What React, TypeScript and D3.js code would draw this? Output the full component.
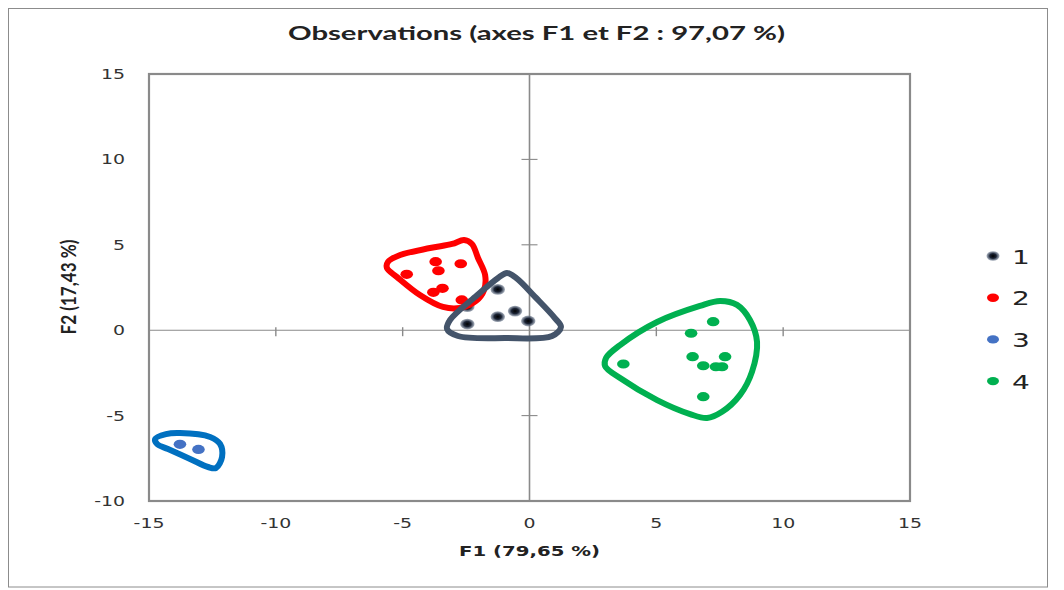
import React from "react";
import * as d3 from "d3";

// --- data ---
const categories = ["1", "2", "3", "4"];
const colors = ["#1b2436", "#ff0000", "#4472c4", "#00b050"];
const outlineColors = ["#44546a", "#ff0000", "#0070c0", "#00b050"];

const group1 = [
  [-1.25, 2.39],
  [-2.45, 1.38],
  [-1.25, 0.79],
  [-0.57, 1.12],
  [-0.05, 0.54],
  [-2.45, 0.36]
];
const group2 = [
  [-4.84, 3.27],
  [-3.7, 4.01],
  [-2.71, 3.89],
  [-3.59, 3.48],
  [-3.43, 2.45],
  [-3.79, 2.22],
  [-2.67, 1.77]
];
const group3 = [
  [-13.78, -6.68],
  [-13.05, -6.98]
];
const group4 = [
  [7.24, 0.5],
  [6.37, -0.18],
  [3.7, -1.98],
  [6.43, -1.55],
  [6.85, -2.08],
  [7.71, -1.55],
  [7.35, -2.14],
  [7.59, -2.14],
  [6.85, -3.89]
];

// hand drawn outlines around each group (data units)
const outline1 = [
  [-1.24, 3.06], [-0.89, 3.35], [-0.53, 3.06], [0.26, 1.89], [1.0, 0.71],
  [1.24, 0.19], [0.89, -0.34], [-0.97, -0.46], [-2.82, -0.34], [-3.25, 0.07],
  [-3.13, 0.6], [-2.15, 1.94]
];
const outline2 = [
  [-5.58, 4.0], [-5.1, 4.4], [-3.92, 4.81], [-3.05, 5.05], [-2.58, 5.28],
  [-2.27, 5.05], [-2.03, 4.23], [-1.75, 3.23], [-1.79, 2.36], [-2.11, 1.71],
  [-2.74, 1.3], [-3.41, 1.36], [-4.32, 2.06], [-5.22, 3.11], [-5.62, 3.64]
];
const outline3 = [
  [-14.76, -6.37], [-14.33, -6.08], [-13.78, -6.02], [-12.59, -6.25],
  [-12.2, -6.66], [-12.12, -7.42], [-12.36, -8.07], [-12.67, -8.01],
  [-13.38, -7.54], [-14.25, -6.96], [-14.68, -6.66]
];
const outline4 = [
  [3.02, -1.62], [3.57, -0.87], [5.03, 0.48], [6.72, 1.42], [7.51, 1.71],
  [8.18, 1.48], [8.69, 0.6], [8.97, -0.69], [8.77, -2.44], [8.3, -3.79],
  [7.59, -4.78], [7.0, -5.14], [6.33, -4.91], [5.03, -4.09], [3.57, -2.8],
  [2.98, -2.1]
];

const xTicks = [-15, -10, -5, 0, 5, 10, 15];
const yTicks = [-10, -5, 0, 5, 10, 15];

const groups = [group1, group2, group3, group4];
const outlines = [outline1, outline2, outline3, outline4];

const W = 1064;
const H = 590;
const SX = 1.4; // the original picture is stretched horizontally
const plot = { left: 149, right: 910, top: 74, bottom: 501 };
const axisGrey = "#8a8a8a";
const labelColor = "#333";

function StretchText(props: any) {
  const { x, y, anchor, size, weight, family, children, fill } = props;
  return (
    <text
      transform={`translate(${x},${y}) scale(${SX},1)`}
      textAnchor={anchor || "middle"}
      fontSize={size}
      fontWeight={weight || "normal"}
      fontFamily={family || "DejaVu Sans"}
      fill={fill || labelColor}
    >
      {children}
    </text>
  );
}

export default function App() {
  const x = d3.scaleLinear().domain([-15, 15]).range([plot.left, plot.right]);
  const y = d3.scaleLinear().domain([-10, 15]).range([plot.bottom, plot.top]);

  const outlinePath = d3
    .line<number[]>()
    .x(d => x(d[0]))
    .y(d => y(d[1]))
    .curve(d3.curveCatmullRomClosed.alpha(0.5));

  const x0 = x(0);
  const y0 = y(0);
  // outline drawing order: green, blue, red, dark on top
  const outlineOrder = [3, 2, 1, 0];

  return (
    <svg
      width={W}
      height={H}
      style={{ position: "absolute", left: 0, top: 0, display: "block", background: "#fff" }}
    >
      <defs>
        <radialGradient id="darkDot">
          <stop offset="0%" stopColor="#000" />
          <stop offset="50%" stopColor="#1b2436" />
          <stop offset="100%" stopColor="#6f7d92" stopOpacity={0.6} />
        </radialGradient>
      </defs>

      <rect x={8.5} y={8.5} width={1039} height={578.5} fill="#fff" stroke="#8c8c8c" strokeWidth={1} />

      <text
        x={536.5}
        y={40}
        textAnchor="middle"
        fontFamily="Lato"
        fontWeight="bold"
        fontSize={19.5}
        textLength={497}
        lengthAdjust="spacingAndGlyphs"
        fill="#222"
      >
        Observations (axes F1 et F2 : 97,07 %)
      </text>

      {/* plot frame */}
      <rect
        x={plot.left}
        y={plot.top}
        width={plot.right - plot.left}
        height={plot.bottom - plot.top}
        fill="none"
        stroke={axisGrey}
        strokeWidth={2.2}
      />

      {/* centre axes */}
      <line x1={x0} x2={x0} y1={plot.top} y2={plot.bottom} stroke={axisGrey} strokeWidth={1.6} />
      <line x1={plot.left} x2={plot.right} y1={y0} y2={y0} stroke={axisGrey} strokeWidth={1.1} />
      {xTicks
        .filter(t => t !== 0 && Math.abs(t) !== 15)
        .map(t => (
          <line key={"xt" + t} x1={x(t)} x2={x(t)} y1={y0 - 3} y2={y0 + 6} stroke={axisGrey} strokeWidth={1.4} />
        ))}
      {yTicks
        .filter(t => t !== 0 && t !== 15 && t !== -10)
        .map(t => (
          <line key={"yt" + t} x1={x0 - 8} x2={x0 + 8} y1={y(t)} y2={y(t)} stroke={axisGrey} strokeWidth={1.1} />
        ))}

      {/* tick labels */}
      {xTicks.map(t => (
        <StretchText key={"xl" + t} x={x(t)} y={527.5} size={13.5}>
          {t}
        </StretchText>
      ))}
      {yTicks.map(t => (
        <StretchText key={"yl" + t} x={125} y={y(t) + 5} size={13.5} anchor="end">
          {t}
        </StretchText>
      ))}

      {/* axis titles */}
      <text
        x={529.5}
        y={556}
        textAnchor="middle"
        fontFamily="DejaVu Sans"
        fontWeight="bold"
        fontSize={14}
        textLength={141}
        lengthAdjust="spacingAndGlyphs"
        fill="#222"
      >
        F1 (79,65 %)
      </text>
      <text
        transform={`translate(76,287) scale(${SX},1) rotate(-90)`}
        textAnchor="middle"
        fontFamily="Lato"
        fontWeight="bold"
        fontSize={15}
        textLength={95}
        lengthAdjust="spacingAndGlyphs"
        fill="#222"
      >
        F2 (17,43 %)
      </text>

      {/* points */}
      {groups.map((g, gi) =>
        g.map((p, i) => (
          <ellipse
            key={`p${gi}-${i}`}
            cx={x(p[0])}
            cy={y(p[1])}
            rx={gi === 0 ? 7.2 : 6.3}
            ry={gi === 0 ? 5.4 : 4.6}
            fill={gi === 0 ? "url(#darkDot)" : colors[gi]}
          />
        ))
      )}

      {/* group outlines */}
      {outlineOrder.map(gi => (
        <path
          key={"o" + gi}
          d={outlinePath(outlines[gi]) || ""}
          fill="none"
          stroke={outlineColors[gi]}
          strokeWidth={6}
          strokeLinejoin="round"
        />
      ))}

      {/* legend */}
      {categories.map((c, i) => {
        const ly = 256 + i * 41.7;
        return (
          <g key={"lg" + c}>
            <ellipse
              cx={993}
              cy={ly}
              rx={i === 0 ? 6.5 : 6}
              ry={i === 0 ? 4.8 : 4.2}
              fill={i === 0 ? "url(#darkDot)" : colors[i]}
            />
            <StretchText x={1012} y={ly + 7.5} size={20} anchor="start" fill="#222">
              {c}
            </StretchText>
          </g>
        );
      })}
    </svg>
  );
}
